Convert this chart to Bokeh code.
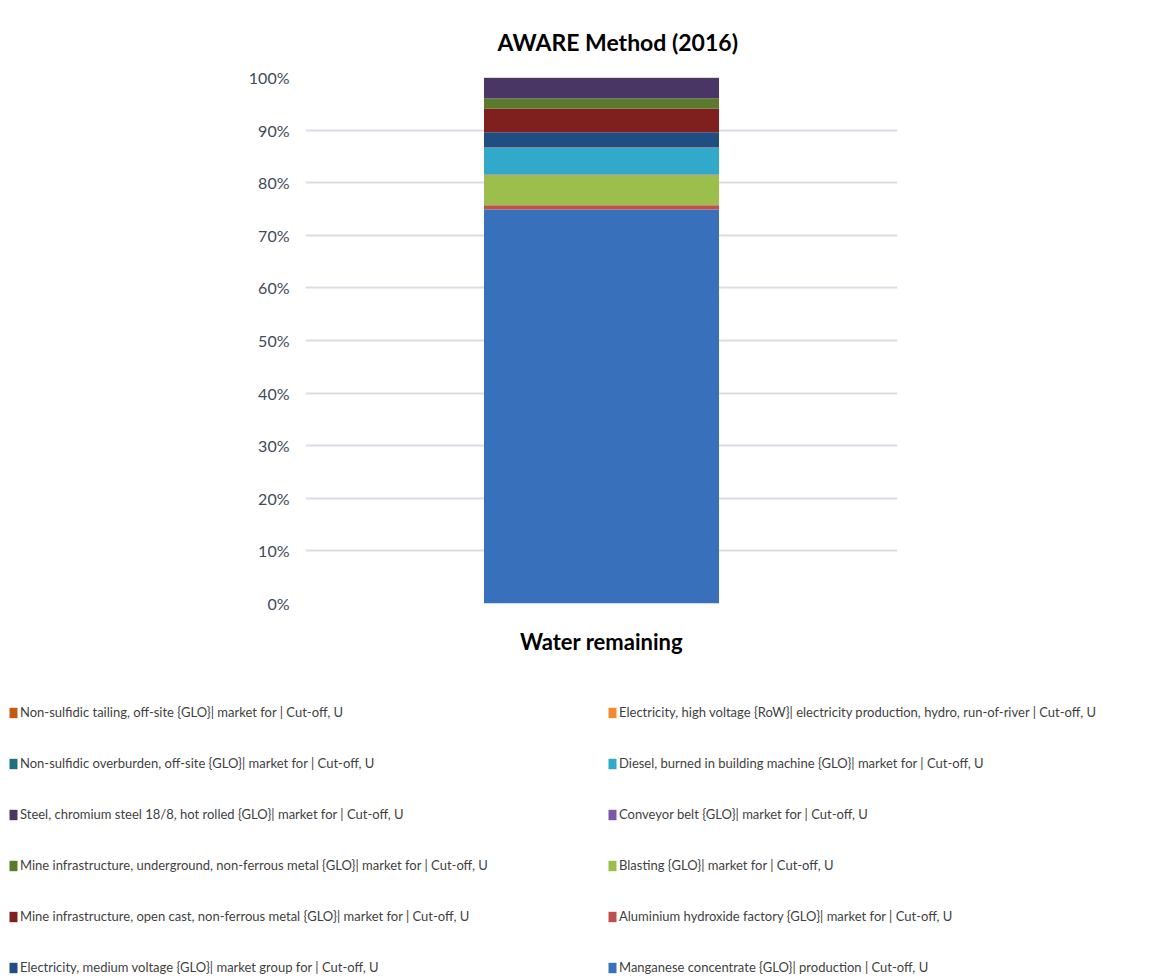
from bokeh.plotting import figure
from bokeh.models import (ColumnDataSource, Range1d, FactorRange, NumeralTickFormatter,
                          Legend, LegendItem, FixedTicker)
from bokeh.embed import file_html
from bokeh.resources import INLINE

FONT = "Lato"

categories = ["Water remaining"]

# stacked bottom -> top
series_names = [
    "Manganese concentrate {GLO}| production | Cut-off, U",
    "Aluminium hydroxide factory {GLO}| market for | Cut-off, U",
    "Blasting {GLO}| market for | Cut-off, U",
    "Conveyor belt {GLO}| market for | Cut-off, U",
    "Diesel, burned in building machine {GLO}| market for | Cut-off, U",
    "Electricity, high voltage {RoW}| electricity production, hydro, run-of-river | Cut-off, U",
    "Electricity, medium voltage {GLO}| market group for | Cut-off, U",
    "Mine infrastructure, open cast, non-ferrous metal {GLO}| market for | Cut-off, U",
    "Mine infrastructure, underground, non-ferrous metal {GLO}| market for | Cut-off, U",
    "Steel, chromium steel 18/8, hot rolled {GLO}| market for | Cut-off, U",
    "Non-sulfidic overburden, off-site {GLO}| market for | Cut-off, U",
    "Non-sulfidic tailing, off-site {GLO}| market for | Cut-off, U",
]
shares_pct = [74.9, 0.8, 5.8, 0.1, 5.0, 0.1, 2.9, 4.5, 1.9, 3.9, 0.05, 0.05]
series_colors = ["#3870BC", "#C0504D", "#9BBE4C", "#7E56A6", "#31A9CB", "#F38B32",
                 "#1F4F82", "#7F1F1E", "#5B7A2C", "#4A3665", "#21707E", "#C45A12"]
y_ticks = [0.0, 0.1, 0.2, 0.3, 0.4, 0.5, 0.6, 0.7, 0.8, 0.9, 1.0]

keys = ["s%d" % i for i in range(len(series_names))]
data = {"x": categories}
for k, v in zip(keys, shares_pct):
    data[k] = [v / 100.0]
source = ColumnDataSource(data)

p = figure(x_range=FactorRange(*categories), y_range=Range1d(0, 1),
           width=1167, height=670, output_backend="svg", toolbar_location=None,
           min_border_left=305, min_border_right=270, min_border_top=77,
           min_border_bottom=67, outline_line_color=None,
           background_fill_color="white", border_fill_color="white")

p.vbar_stack(keys, x="x", width=0.397, color=series_colors,
             line_color=None, source=source)

# title
p.title.text = "AWARE Method (2016)"
p.title.align = "left"
p.title.text_font = FONT
p.title.text_font_size = "23px"
p.title.text_font_style = "bold"
p.title.text_color = "#000000"
p.title.offset = 192
p.title.standoff = 43

# axes
p.xaxis.axis_line_color = None
p.xaxis.major_tick_line_color = None
p.xaxis.minor_tick_line_color = None
p.xaxis.major_label_text_font = FONT
p.xaxis.major_label_text_font_size = "22px"
p.xaxis.major_label_text_font_style = "bold"
p.xaxis.major_label_text_color = "#000000"
p.xaxis.major_label_standoff = 18

p.yaxis.ticker = FixedTicker(ticks=y_ticks)
p.yaxis.formatter = NumeralTickFormatter(format="0%")
p.yaxis.axis_line_color = None
p.yaxis.major_tick_line_color = None
p.yaxis.minor_tick_line_color = None
p.yaxis.major_label_text_font = FONT
p.yaxis.major_label_text_font_size = "16px"
p.yaxis.major_label_text_color = "#404A5A"
p.yaxis.major_label_standoff = 10

p.xgrid.grid_line_color = None
p.ygrid.grid_line_color = "#D9DEE6"
p.ygrid.grid_line_width = 2

# legend panel: separate root figure; the same stacked bars are kept out of its view
lg_fig = figure(width=1167, height=308, output_backend="svg", toolbar_location=None,
                x_range=FactorRange(*categories), y_range=Range1d(5, 6),
                x_axis_type=None, y_axis_type=None, outline_line_color=None,
                min_border_left=0, min_border_right=0, min_border_top=0, min_border_bottom=0,
                background_fill_color="white", border_fill_color="white")
lg_fig.grid.visible = False
lg_renderers = lg_fig.vbar_stack(keys, x="x", width=0.397, color=series_colors,
                                 line_color=None, source=source)

# left column = top series reversed, right column = bottom series reversed
left_idx = [11, 10, 9, 8, 7, 6]
right_idx = [5, 4, 3, 2, 1, 0]

def make_legend(idx, loc):
    return Legend(items=[LegendItem(label=series_names[i], renderers=[lg_renderers[i]]) for i in idx],
                  location=loc, orientation="vertical",
                  label_text_font=FONT, label_text_font_size="13px", label_text_color="#3F3F3F",
                  glyph_width=10, glyph_height=13, label_height=20, label_standoff=2,
                  spacing=31, padding=0, margin=0,
                  background_fill_alpha=0, border_line_color=None)

lg_fig.add_layout(make_legend(left_idx, (8, 1)), "center")
lg_fig.add_layout(make_legend(right_idx, (607, 1)), "center")

open("out.html", "w").write(file_html([p, lg_fig], INLINE))
